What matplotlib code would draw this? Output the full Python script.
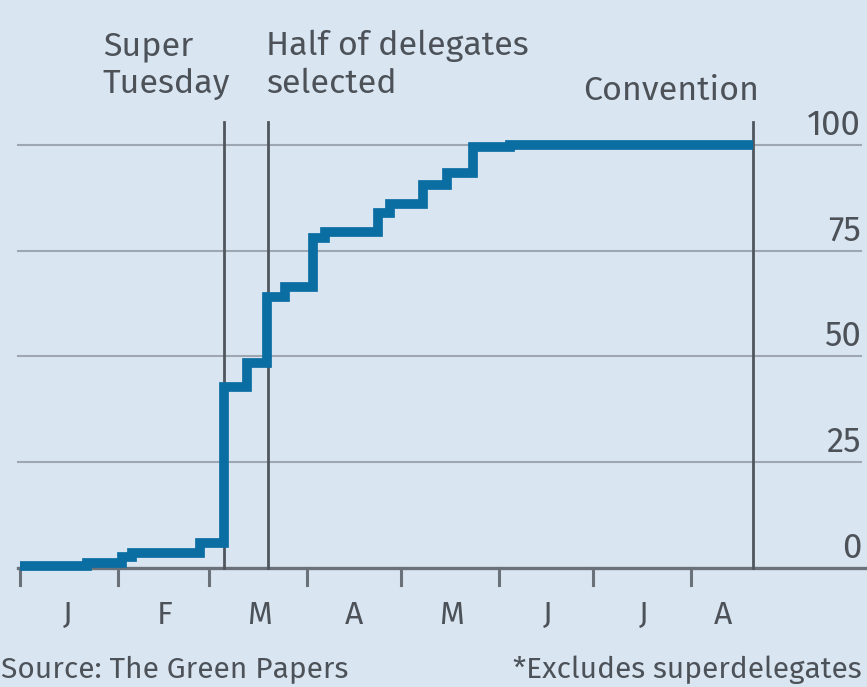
import matplotlib
matplotlib.use("Agg")
import matplotlib.pyplot as plt
from matplotlib import font_manager as fm

# humanist face if one is present, else DejaVu
have = set(f.name for f in fm.fontManager.ttflist)
for cand in ['Fira Sans', 'PT Sans', 'Asap', 'Open Sans']:
    if cand in have:
        break
else:
    cand = 'DejaVu Sans'
plt.rcParams['font.family'] = [cand, 'DejaVu Sans']

# share of delegates selected (%), step changes by day of year (2016)
days = [0, 21.3, 32.5, 35.5, 57, 64.8, 72, 78.5, 84, 93, 96.8, 113.6, 117.5, 128, 135.5, 143.8, 155.5, 232.7]
vals = [0.4, 1.3, 2.6, 3.5, 6, 42.7, 48.5, 64, 66.5, 78, 79.5, 84, 86, 90.5, 93.3, 99.5, 100, 100]

month_starts = [0, 31, 60, 91, 121, 152, 182, 213]
month_labels = ['J', 'F', 'M', 'A', 'M', 'J', 'J', 'A']
month_label_pos = [15.2, 46, 76, 106, 137, 167.6, 198, 223]
yticks = [0, 25, 50, 75, 100]

super_tuesday = 64.8
half_selected = 78.8
convention = 232.7

bg = '#d9e6f2'
txt = '#4d5259'
blue = '#0a6ea3'
fs = 24.5

fig = plt.figure(figsize=(8.67, 6.87), dpi=100, facecolor=bg)
ax = fig.add_axes([0, 0, 1, 1])
ax.set_facecolor(bg)
ax.set_xlim(-20 / 3.15, 847 / 3.15)
ax.set_ylim(-119 / 4.23, 568 / 4.23)
ax.axis('off')

# grid lines and labels
for v in yticks[1:]:
    ax.plot([-0.6, 267], [v, v], color='#9ea7b1', lw=1.5, zorder=1)
for v in yticks:
    ax.text(267, v + 2.4, str(v), ha='right', va='baseline', fontsize=25, color=txt)

# x axis
ax.plot([-0.6, 270], [0, 0], color='#6b7178', lw=2.4, zorder=2)
for m in month_starts:
    ax.plot([m, m], [0, -4.1], color='#6b7178', lw=2.2, zorder=2)
for p, lab in zip(month_label_pos, month_labels):
    ax.text(p, -13.2, lab, ha='center', va='baseline', fontsize=23, color=txt)

# event lines
for d in [super_tuesday, half_selected, convention]:
    ax.plot([d, d], [0, 105.5], color='#50565d', lw=2.0, zorder=2)

ax.step(days, vals, where='post', color=blue, lw=7, zorder=3,
        solid_joinstyle='miter', solid_capstyle='butt')

ax.text(26.3, 121.3, 'Super', ha='left', va='baseline', fontsize=fs, color=txt)
ax.text(26.3, 112.3, 'Tuesday', ha='left', va='baseline', fontsize=fs, color=txt)
ax.text(78.0, 121.3, 'Half of delegates', ha='left', va='baseline', fontsize=fs, color=txt)
ax.text(78.0, 112.3, 'selected', ha='left', va='baseline', fontsize=fs, color=txt)
ax.text(234.6, 110.6, 'Convention', ha='right', va='baseline', fontsize=fs, color=txt)

ax.text(-5.9, -26.0, 'Source: The Green Papers', ha='left', va='baseline', fontsize=21.5, color=txt)
ax.text(267.3, -26.0, '*Excludes superdelegates', ha='right', va='baseline', fontsize=21.5, color=txt)

fig.savefig('out.png', dpi=100, facecolor=bg)
